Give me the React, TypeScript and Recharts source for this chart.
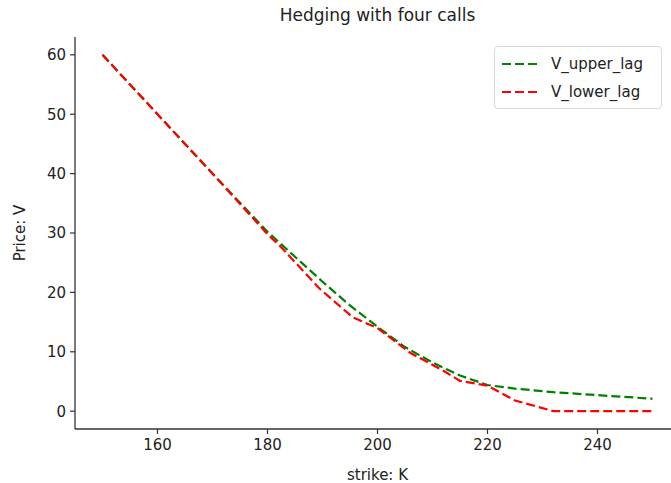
import { LineChart, Line, XAxis, YAxis } from "recharts"

// strike grid and prices
const strikesUpper = [150, 160, 170, 180, 185, 190, 195, 200, 205, 210, 215, 220, 225, 232, 240, 250]
const upperLag = [60, 50, 40, 30.2, 26, 21.8, 17.8, 14.2, 10.8, 8.2, 6, 4.4, 3.8, 3.2, 2.7, 2.1]

const strikesLower = [150, 160, 170, 180, 182.5, 189.5, 195.5, 200, 206, 212, 215, 220, 225, 232, 240, 250]
const lowerLag = [60, 50, 40, 29.8, 27.6, 20.6, 15.8, 14, 9.8, 6.8, 5.1, 4.3, 1.8, 0, 0, 0]

const xTicks = [160, 180, 200, 220, 240]
const yTicks = [0, 10, 20, 30, 40, 50, 60]

const title = "Hedging with four calls"

const series = [
  { key: "V_upper_lag", color: "#008000", k: strikesUpper, v: upperLag },
  { key: "V_lower_lag", color: "#ff0000", k: strikesLower, v: lowerLag },
]

const font = "'DejaVu Sans', sans-serif"
const axisColor = "#333"

function LegendBox() {
  return (
    <div
      style={{
        position: "absolute",
        left: 494,
        top: 46,
        width: 168,
        height: 63,
        border: "1px solid #d8d8d8",
        borderRadius: 4,
        background: "rgba(255,255,255,0.8)",
        boxSizing: "border-box",
        fontFamily: font,
        fontSize: 15,
        color: "#222",
        paddingTop: 3,
      }}
    >
      {series.map((s) => (
        <div key={s.key} style={{ display: "flex", alignItems: "center", height: 28 }}>
          <svg width={56} height={10}>
            <line x1={7} y1={5} x2={44} y2={5} stroke={s.color} strokeWidth={2.2} strokeDasharray="9 4" />
          </svg>
          <span>{s.key}</span>
        </div>
      ))}
    </div>
  )
}

export default function App() {
  return (
    <div style={{ position: "absolute", left: 0, top: 0, width: 671, height: 483, overflow: "hidden", background: "#fff" }}>
      <div
        style={{
          position: "absolute",
          left: 75,
          width: 605,
          top: 5,
          textAlign: "center",
          fontFamily: font,
          fontSize: 17,
          color: "#222",
        }}
      >
        {title}
      </div>
      <LineChart width={680} height={483} margin={{ top: 37, right: 0, bottom: 24, left: 30 }}>
        <XAxis
          xAxisId="top"
          orientation="top"
          type="number"
          dataKey="k"
          domain={[145, 255]}
          ticks={[]}
          tick={false}
          height={0}
          axisLine={{ stroke: axisColor, strokeWidth: 1.3 }}
          allowDataOverflow
        />
        <XAxis
          type="number"
          dataKey="k"
          domain={[145, 255]}
          ticks={xTicks}
          height={30}
          allowDataOverflow
          axisLine={{ stroke: axisColor, strokeWidth: 1.3 }}
          tickLine={{ stroke: axisColor, strokeWidth: 1.2 }}
          tickSize={5}
          tick={{ fill: "#222", fontSize: 15, fontFamily: font, dy: 3 }}
          label={{ value: "strike: K", position: "insideBottom", offset: -21, fill: "#222", fontSize: 15, fontFamily: font }}
        />
        <YAxis
          type="number"
          domain={[-3, 63]}
          ticks={yTicks}
          width={45}
          allowDataOverflow
          axisLine={{ stroke: axisColor, strokeWidth: 1.3 }}
          tickLine={{ stroke: axisColor, strokeWidth: 1.2 }}
          tickSize={5}
          tick={{ fill: "#222", fontSize: 15, fontFamily: font, dx: -2 }}
          label={{ value: "Price: V", angle: -90, position: "insideLeft", offset: -10, fill: "#222", fontSize: 15, fontFamily: font, style: { textAnchor: "middle" } }}
        />
        {series.map((s) => (
          <Line
            key={s.key}
            data={s.k.map((k, i) => ({ k, v: s.v[i] }))}
            dataKey="v"
            name={s.key}
            type="linear"
            stroke={s.color}
            strokeWidth={2.2}
            strokeDasharray="9 4"
            dot={false}
            isAnimationActive={false}
          />
        ))}
      </LineChart>
      <LegendBox />
    </div>
  )
}
